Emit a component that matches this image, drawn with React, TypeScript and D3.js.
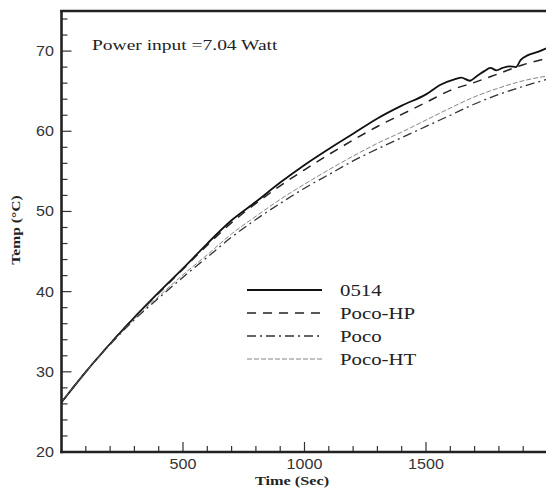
import React from "react";
import * as d3 from "d3";

const seriesNames = ["0514", "Poco-HP", "Poco", "Poco-HT"];

const t0514 = [0, 100, 200, 300, 400, 500, 600, 700, 800, 900, 1000, 1100, 1200, 1300, 1400, 1500, 1560, 1620, 1645, 1680, 1710, 1740, 1765, 1790, 1815, 1845, 1870, 1890, 1920, 1960, 2000];
const v0514 = [26.2, 30.0, 33.5, 36.8, 39.9, 42.9, 46.0, 48.9, 51.2, 53.6, 55.8, 57.8, 59.7, 61.6, 63.2, 64.6, 65.8, 66.5, 66.7, 66.3, 66.9, 67.5, 67.9, 67.6, 67.9, 68.1, 68.0, 68.9, 69.5, 69.9, 70.4];

const tStd = [0, 100, 200, 300, 400, 500, 600, 700, 800, 900, 1000, 1100, 1200, 1300, 1400, 1500, 1600, 1700, 1800, 1900, 2000];
const vPocoHP = [26.2, 30.0, 33.5, 36.8, 39.8, 42.8, 45.8, 48.6, 51.0, 53.2, 55.2, 57.1, 58.9, 60.6, 62.1, 63.6, 65.1, 66.1, 67.2, 68.3, 69.1];
const vPoco = [26.2, 30.0, 33.4, 36.5, 39.2, 41.8, 44.3, 46.8, 49.0, 51.0, 52.9, 54.6, 56.3, 57.8, 59.2, 60.6, 62.0, 63.4, 64.6, 65.6, 66.5];
const vPocoHT = [26.2, 30.0, 33.4, 36.6, 39.4, 42.1, 44.6, 47.2, 49.4, 51.5, 53.4, 55.2, 56.9, 58.5, 59.9, 61.4, 62.9, 64.3, 65.4, 66.3, 66.9];

const xTickLabels = [500, 1000, 1500];
const yTickLabels = [20, 30, 40, 50, 60, 70];

const W = 546;
const H = 496;
const left = 61.5;
const right = 547.5;
const top = 11;
const bottom = 452;

function SText(props: {
  x: number;
  y: number;
  sx: number;
  anchor?: string;
  size: number;
  family: string;
  weight?: string;
  fill?: string;
  rotate?: number;
  children: React.ReactNode;
}) {
  const { x, y, sx, anchor, size, family, weight, fill, rotate, children } = props;
  return (
    <g transform={`translate(${x},${y})${rotate ? ` rotate(${rotate})` : ""} scale(${sx},1)`}>
      <text x={0} y={0} textAnchor={anchor || "start"} fontFamily={family} fontWeight={weight || "normal"} fontSize={size} fill={fill || "#222"}>
        {children}
      </text>
    </g>
  );
}

const SERIF = "Liberation Serif, Times New Roman, serif";
const SANS = "Liberation Sans, Arial, sans-serif";

export default function App() {
  const x = d3.scaleLinear().domain([0, 2000]).range([left, right]);
  const y = d3.scaleLinear().domain([20, 75]).range([bottom, top]);
  const line = d3
    .line<[number, number]>()
    .x((d) => x(d[0]))
    .y((d) => y(d[1]))
    .curve(d3.curveMonotoneX);

  const series = [
    { name: seriesNames[0], t: t0514, v: v0514, stroke: "#111", width: 1.8, dash: undefined as string | undefined },
    { name: seriesNames[1], t: tStd, v: vPocoHP, stroke: "#222", width: 1.5, dash: "9,7" },
    { name: seriesNames[2], t: tStd, v: vPoco, stroke: "#333", width: 1.3, dash: "9,4,2,4" },
    { name: seriesNames[3], t: tStd, v: vPocoHT, stroke: "#666", width: 0.8, dash: "5,2" },
  ];

  const xMinor = d3.range(100, 2000, 100);
  const yMinor = d3.range(22, 75, 2);

  const legendY = [290, 313, 336, 359];

  return (
    <svg width={W} height={H} style={{ position: "absolute", left: 0, top: 0, background: "#fff" }}>
      <rect x={0} y={0} width={W} height={H} fill="#fff" />
      <defs>
        <clipPath id="plot">
          <rect x={left} y={top} width={right - left} height={bottom - top} />
        </clipPath>
      </defs>
      <g clipPath="url(#plot)">
        {series.map((s) => (
          <path
            key={s.name}
            d={line(s.t.map((tt, i) => [tt, s.v[i]] as [number, number])) || ""}
            fill="none"
            stroke={s.stroke}
            strokeWidth={s.width}
            strokeDasharray={s.dash}
          />
        ))}
      </g>
      {xMinor.map((t) => (
        <line key={"xm" + t} x1={x(t)} x2={x(t)} y1={bottom} y2={bottom - (t % 500 === 0 ? 10 : 6)} stroke="#333" strokeWidth={1.2} />
      ))}
      {yMinor.map((v) => (
        <line key={"ym" + v} x1={left} x2={left + (v % 10 === 0 ? 10 : 6)} y1={y(v)} y2={y(v)} stroke="#333" strokeWidth={1.2} />
      ))}
      <line x1={left} x2={left} y1={top - 1} y2={bottom + 1.2} stroke="#222" strokeWidth={2.6} />
      <line x1={left - 1.3} x2={W} y1={bottom} y2={bottom} stroke="#222" strokeWidth={2.6} />
      <line x1={left - 1.3} x2={W} y1={top} y2={top} stroke="#222" strokeWidth={2.4} />
      {xTickLabels.map((t) => (
        <SText key={"xl" + t} x={x(t)} y={469} sx={1.15} anchor="middle" size={14} family={SANS} fill="#333">
          {t}
        </SText>
      ))}
      {yTickLabels.map((v) => (
        <SText key={"yl" + v} x={54} y={y(v) + 5} sx={1.15} anchor="end" size={14} family={SANS} fill="#333">
          {v}
        </SText>
      ))}
      <SText x={292} y={485} sx={1.25} anchor="middle" size={13} family={SERIF} weight="bold">
        Time (Sec)
      </SText>
      <SText x={20} y={230} sx={1.3} rotate={-90} anchor="middle" size={12} family={SERIF} weight="bold">
        Temp (°C)
      </SText>
      <SText x={92} y={50} sx={1.3} size={15} family={SERIF}>
        Power input =7.04 Watt
      </SText>
      {series.map((s, i) => (
        <g key={"lg" + s.name}>
          <line x1={247} x2={322} y1={legendY[i]} y2={legendY[i]} stroke={s.stroke} strokeWidth={s.width} strokeDasharray={s.dash} />
          <SText x={340} y={legendY[i] + 6} sx={1.3} size={16} family={SERIF}>
            {s.name}
          </SText>
        </g>
      ))}
    </svg>
  );
}
